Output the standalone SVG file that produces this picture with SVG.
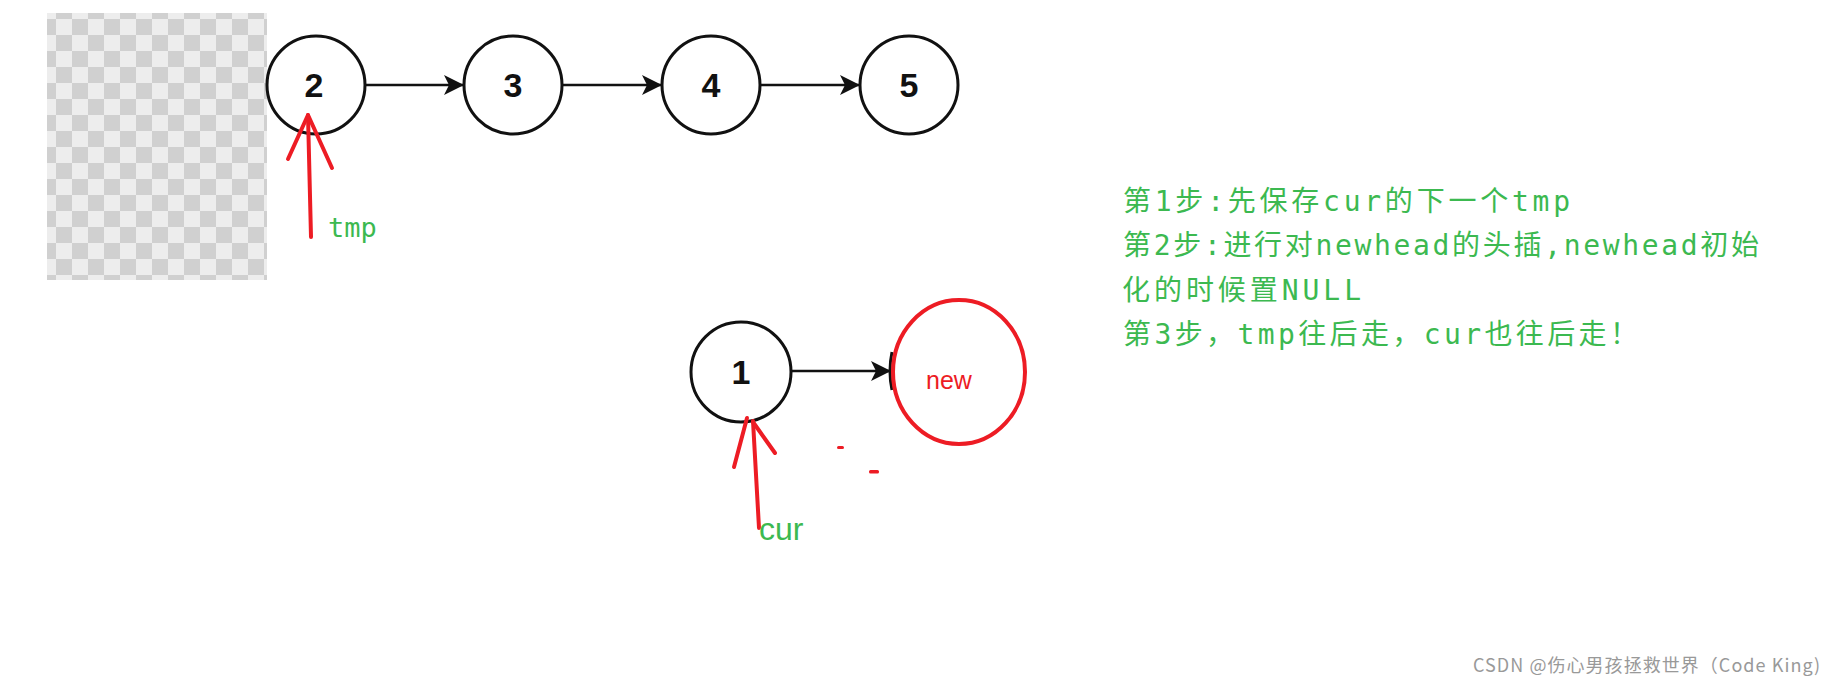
<svg xmlns="http://www.w3.org/2000/svg" width="1836" height="695" viewBox="0 0 1836 695">
<style>
.node{fill:#fff;stroke:#111;stroke-width:3}
.num{font-family:"Liberation Sans",Arial,sans-serif;font-weight:bold;font-size:34px;fill:#111;text-anchor:middle}
.edge{stroke:#111;stroke-width:2.5;fill:none}
.red{stroke:#ed1c24;stroke-width:4;fill:none;stroke-linecap:round;stroke-linejoin:round}
.note{font-family:"DejaVu Sans Mono","Noto Sans CJK SC",monospace;font-size:28px;fill:#3cb950}
</style>
<defs>
<pattern id="checker" x="40" y="3" width="32" height="32" patternUnits="userSpaceOnUse">
<rect width="32" height="32" fill="#ededed"/>
<rect x="16" y="0" width="16" height="16" fill="#d0d0d0"/>
<rect x="0" y="16" width="16" height="16" fill="#d0d0d0"/>
</pattern>
<marker id="arrow" viewBox="0 0 20 20" refX="20" refY="10" markerWidth="20" markerHeight="20" markerUnits="userSpaceOnUse" orient="auto">
<path d="M0,0 L20,10 L0,20 L5,10 Z" fill="#111"/>
</marker>
</defs>
<rect width="1836" height="695" fill="#fff"/>
<rect id="checkerboard" x="47" y="13" width="220" height="267" fill="url(#checker)"/>

<g id="connectors">
<line class="edge" x1="365" y1="85" x2="464" y2="85" marker-end="url(#arrow)"/>
<line class="edge" x1="562" y1="85" x2="662" y2="85" marker-end="url(#arrow)"/>
<line class="edge" x1="760" y1="85" x2="860" y2="85" marker-end="url(#arrow)"/>
<line class="edge" x1="792" y1="371" x2="891" y2="371" marker-end="url(#arrow)"/>
</g>

<g id="node-2"><circle class="node" cx="316" cy="85" r="49"/><text class="num" x="314" y="97">2</text></g>
<g id="node-3"><circle class="node" cx="513" cy="85" r="49"/><text class="num" x="513" y="97">3</text></g>
<g id="node-4"><circle class="node" cx="711" cy="85" r="49"/><text class="num" x="711" y="97">4</text></g>
<g id="node-5"><circle class="node" cx="909" cy="85" r="49"/><text class="num" x="909" y="97">5</text></g>
<g id="node-1"><circle class="node" cx="741" cy="372" r="50"/><text class="num" x="741" y="384">1</text></g>

<g id="node-new">
<path d="M892 352 Q888 371 892 390" stroke="#111" stroke-width="3" fill="none"/>
<ellipse cx="959" cy="372" rx="66" ry="72" fill="none" stroke="#ed1c24" stroke-width="4"/>
<text x="926" y="389" font-family="'Liberation Sans',Arial,sans-serif" font-size="25" fill="#ed1c24">new</text>
</g>

<g id="pointer-tmp">
<path class="red" d="M311 237 L308 115"/>
<path class="red" d="M288 159 L308 115 L332 168"/>
<text x="328" y="237" font-family="'DejaVu Sans Mono',monospace" font-size="27" fill="#3cb950">tmp</text>
</g>

<g id="pointer-cur">
<path class="red" d="M759 528 L753 421"/>
<path class="red" d="M734 467 L747 418"/>
<path class="red" d="M753 422 L775 453"/>
<text x="759" y="540" font-family="'Liberation Sans',Arial,sans-serif" font-size="32" fill="#3cb950">cur</text>
</g>

<g id="marks">
<rect x="837" y="446" width="7" height="3" rx="1.5" fill="#ed1c24"/>
<rect x="869" y="470" width="10" height="3.5" rx="1.5" fill="#ed1c24"/>
</g>

<g id="notes">
<text class="note" x="1123" y="211" textLength="447" lengthAdjust="spacing">第1步:先保存cur的下一个tmp</text>
<text class="note" x="1123" y="255" textLength="636" lengthAdjust="spacing">第2步:进行对newhead的头插,newhead初始</text>
<text class="note" x="1122" y="300" textLength="239" lengthAdjust="spacing">化的时候置NULL</text>
<text class="note" x="1123" y="344" textLength="515" lengthAdjust="spacing">第3步，tmp往后走，cur也往后走！</text>
</g>

<text id="watermark" x="1473" y="672" font-family="'Noto Sans CJK SC','Noto Sans',sans-serif" font-size="18" fill="#999" textLength="347" lengthAdjust="spacing">CSDN @伤心男孩拯救世界（Code King)</text>
</svg>
